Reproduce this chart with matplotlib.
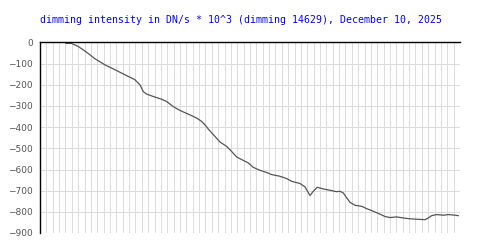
import matplotlib
matplotlib.use("Agg")
import matplotlib.pyplot as plt
import numpy as np

title = "dimming intensity in DN/s * 10^3 (dimming 14629), December 10, 2025"

# time in grid steps
t = [4.09, 4.92, 5.97, 6.76, 7.54, 8.60, 10.17, 11.74, 13.31, 14.88, 15.71, 16.23,
     16.77, 17.80, 19.12, 19.91, 20.95, 22.00, 23.57, 24.62, 25.41, 25.93, 26.45,
     28.28, 29.34, 30.12, 30.91, 31.95, 32.73, 33.52, 34.57, 35.62, 36.41, 37.71,
     38.77, 39.55, 40.85, 41.64, 42.43, 42.94, 43.57, 44.52, 45.57, 46.62, 47.14,
     47.66, 48.20, 48.71, 49.50, 50.55, 51.34, 52.37, 53.43, 54.21, 55.00, 56.05,
     57.09, 58.14, 60.50, 61.02, 61.55, 62.34, 63.37, 64.16, 64.94, 65.73]
intensity = [-4, -4, -18, -34, -51, -76, -105, -128, -152, -175, -200, -232,
             -244, -255, -268, -279, -303, -321, -342, -357, -373, -389, -409,
             -470, -491, -515, -541, -557, -569, -590, -604, -614, -624, -632,
             -643, -656, -666, -682, -723, -703, -684, -692, -698, -705, -703,
             -711, -734, -755, -769, -774, -785, -797, -811, -822, -827, -824,
             -829, -833, -837, -829, -818, -813, -816, -813, -815, -818]
yticks = [0, -100, -200, -300, -400, -500, -600, -700, -800, -900]

fig = plt.figure(figsize=(5, 2.5), dpi=100)
ax = fig.add_axes([0.08, 0.068, 0.84, 0.762])
ax.set_xlim(0, 66)
ax.set_ylim(-900, 0)
ax.set_xticks(np.arange(0, 67, 1))
ax.set_yticks(yticks)
ax.set_yticklabels([f"\u2212{abs(v)}" if v < 0 else str(v) for v in yticks])
ax.tick_params(axis='x', length=0, labelbottom=False)
ax.tick_params(axis='y', length=0, labelsize=6.5, labelcolor='#555555', pad=5)
ax.grid(True, color='#dcdcdc', linewidth=0.72)
ax.set_axisbelow(True)
for s in ['right', 'bottom']:
    ax.spines[s].set_visible(False)
ax.spines['left'].set_color('black')
ax.spines['top'].set_color('black')
ax.spines['left'].set_linewidth(1.0)
ax.spines['top'].set_linewidth(1.0)
ax.plot(t, intensity, color='#555555', linewidth=0.9)

fig.text(0.08, 0.92, title, ha='left', va='center', color='#0000ff',
         fontsize=7.15, family='DejaVu Sans Mono')
fig.savefig("out.png", dpi=100)
